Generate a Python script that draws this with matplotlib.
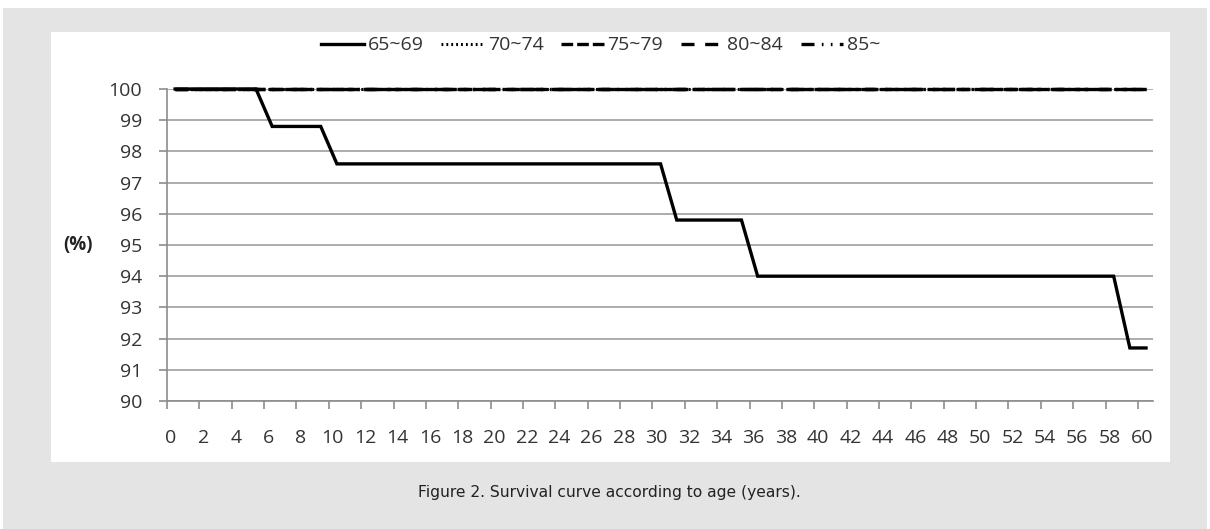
import matplotlib.pyplot as plt
import matplotlib.patches as mpatches
import matplotlib.transforms as mtransforms
from matplotlib import font_manager
import numpy as np

years = list(range(61))
age_groups = ['65~69', '70~74', '75~79', '80~84', '85~']

# survival (%) by year for each age group
surv_65_69 = [100.0] * 6 + [98.8] * 4 + [97.6] * 21 + [95.8] * 5 + [94.0] * 23 + [91.7] * 2
surv_70_74 = [100.0] * 61
surv_75_79 = [100.0] * 61
surv_80_84 = [100.0] * 61
surv_85 = [100.0] * 61

y_ticks = list(range(90, 101))
x_ticks = list(range(0, 61, 2))

names = {f.name for f in font_manager.fontManager.ttflist}
narrow = 'Liberation Sans Narrow' if 'Liberation Sans Narrow' in names else 'DejaVu Sans'
plt.rcParams['font.family'] = ['Open Sans', 'DejaVu Sans']

fig = plt.figure(figsize=(12.1, 5.29), dpi=100)
W, H = 1210, 529

# grey page panel and white chart panel
fig.patches.append(mpatches.Rectangle((3 / W, 0), 1204 / W, 521 / H, transform=fig.transFigure,
                                      facecolor='#e4e4e4', edgecolor='none', zorder=-10))
fig.patches.append(mpatches.Rectangle((51 / W, (H - 462) / H), 1119 / W, 430 / H, transform=fig.transFigure,
                                      facecolor='white', edgecolor='none', zorder=-9))

ax = fig.add_axes([167 / W, (H - 401) / H, 986 / W, 312 / H])
ax.set_facecolor('white')

x = np.array(years) + 0.5
styles = [
    ('-', 2.4),
    ((0, (0.6, 1.0)), 2.2),
    ((0, (3.5, 1.2)), 2.4),
    ((0, (3.9, 3.2)), 2.4),
    ((0, (3.9, 2.2, 0.5, 2.2, 0.5, 2.2)), 2.4),
]
series = [surv_65_69, surv_70_74, surv_75_79, surv_80_84, surv_85]
for label, vals, (ls, lw) in zip(age_groups, series, styles):
    ax.plot(x, vals, color='black', linestyle=ls, linewidth=lw, label=label,
            solid_joinstyle='miter', zorder=3, clip_on=False)

ax.set_xlim(0, 60.93)
ax.set_ylim(90, 100)
ax.set_yticks(y_ticks)
ax.set_xticks(x_ticks)
ax.set_xticklabels([str(t) for t in x_ticks])
ax.grid(axis='y', color='#a6a6a6', linewidth=1.3, zorder=1)
ax.set_axisbelow(True)

for side in ['top', 'right']:
    ax.spines[side].set_visible(False)
for side in ['left', 'bottom']:
    ax.spines[side].set_color('#8c8c8c')
    ax.spines[side].set_linewidth(1.2)

ax.tick_params(axis='y', length=6, color='#8c8c8c', width=1.2, labelsize=14,
               labelcolor='#333333', pad=12)
ax.tick_params(axis='x', length=6, color='#8c8c8c', width=1.2, labelsize=14,
               labelcolor='#333333', pad=14)

# x labels sit slightly to the right of their ticks
shift = mtransforms.ScaledTranslation(4 / 100, 0, fig.dpi_scale_trans)
for lbl in ax.get_xticklabels():
    lbl.set_transform(lbl.get_transform() + shift)

ax.text(-0.09, 0.5, '(%)', transform=ax.transAxes, ha='center', va='center',
        fontsize=13.5, color='#222222', fontweight='bold')

ax.legend(loc='center', bbox_to_anchor=(0.44, 1.14), ncol=5, frameon=False,
          fontsize=14, handlelength=2.2, handletextpad=0.2, columnspacing=0.9,
          labelcolor='#333333')

fig.text(609 / W, (H - 493) / H, 'Figure 2. Survival curve according to age (years).',
         ha='center', va='center', fontsize=11.2, color='#222222', family=[narrow, 'DejaVu Sans'])

fig.savefig('out.png', dpi=100, facecolor='white')
